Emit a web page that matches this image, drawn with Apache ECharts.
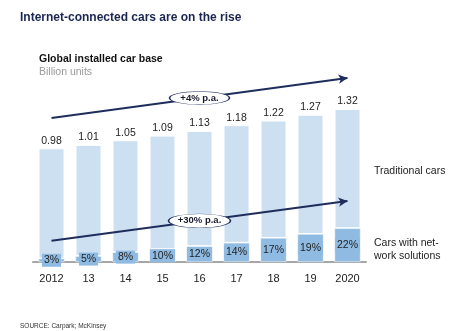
<!DOCTYPE html>
<html>
<head>
<meta charset="utf-8">
<script src="https://cdn.jsdelivr.net/npm/echarts@6/dist/echarts.min.js"></script>
<style>html,body{margin:0;padding:0;background:#fff}#c{width:463px;height:331px}</style>
</head>
<body>
<div id="c"></div>
<script>
var years = ['2012', '13', '14', '15', '16', '17', '18', '19', '2020'];
var totals = [0.98, 1.01, 1.05, 1.09, 1.13, 1.18, 1.22, 1.27, 1.32];
var sharePct = [3, 5, 8, 10, 12, 14, 17, 19, 22];
var growthLabels = ['+4% p.a.', '+30% p.a.'];
// trend arrows: [start value at 2012, end value at 2020]
var upperTrend = [1.241, 1.586];
var lowerTrend = [0.184, 0.526];

var connected = totals.map(function (t, i) { return +(t * sharePct[i] / 100).toFixed(4); });
var traditional = totals.map(function (t, i) { return +(t - connected[i]).toFixed(4); });

var navy = '#1f2d5c';
var chart = echarts.init(document.getElementById('c'));
var font = 'Liberation Sans, Arial, sans-serif';
chart.setOption({
  animation: false,
  textStyle: { fontFamily: font },
  title: [
    { text: 'Internet-connected cars are on the rise', left: 15, top: 7,
      textStyle: { fontSize: 12, fontWeight: 'bold', color: '#1b2650', fontFamily: font } },
    { text: 'Global installed car base', left: 34, top: 49,
      textStyle: { fontSize: 10.5, fontWeight: 'bold', color: '#111', fontFamily: font } },
    { text: 'Billion units', left: 34, top: 62,
      textStyle: { fontSize: 10.5, fontWeight: 'normal', color: '#999', fontFamily: font } },
    { text: 'Traditional cars', left: 369, top: 161,
      textStyle: { fontSize: 10.5, fontWeight: 'normal', color: '#222', fontFamily: font } },
    { text: 'Cars with net-\nwork solutions', left: 369, top: 232,
      textStyle: { fontSize: 10.5, fontWeight: 'normal', color: '#222', lineHeight: 12.6, fontFamily: font } },
    { text: 'SOURCE: Carpark; McKinsey', left: 15, top: 318,
      textStyle: { fontSize: 6.5, fontWeight: 'normal', color: '#333', fontFamily: font } }
  ],
  grid: { left: 33, width: 333, top: 59, bottom: 69 },
  xAxis: {
    type: 'category', data: years,
    axisLine: { lineStyle: { color: '#a6a6a6', width: 2 } },
    axisTick: { show: false },
    axisLabel: { fontSize: 11, color: '#222', margin: 11, fontFamily: font }
  },
  yAxis: { type: 'value', min: 0, max: 1.75, show: false, splitLine: { show: false } },
  series: [
    {
      name: 'Cars with network solutions', type: 'bar', stack: 'a', barWidth: 26,
      data: connected,
      itemStyle: { color: '#8fbbe2', borderColor: '#fff', borderWidth: 0.5 },
      label: {
        show: true, position: 'inside', fontSize: 10.5, color: '#222', fontFamily: font,
        backgroundColor: '#8fbbe2', padding: [1, 2],
        formatter: function (p) { return sharePct[p.dataIndex] + '%'; }
      },
      z: 3
    },
    {
      name: 'Traditional cars', type: 'bar', stack: 'a', barWidth: 26,
      data: traditional,
      itemStyle: { color: '#cde0f2', borderColor: '#fff', borderWidth: 1 },
      label: {
        show: true, position: 'top', distance: 2, fontSize: 10.5, color: '#222', fontFamily: font,
        formatter: function (p) { return totals[p.dataIndex].toFixed(2); }
      },
      markLine: {
        silent: true, symbol: ['none', 'arrow'], symbolSize: [7, 9],
        label: { show: false },
        lineStyle: { color: navy, width: 2, type: 'solid' },
        emphasis: { disabled: true },
        data: [
          [{ coord: [years[0], upperTrend[0]] }, { coord: [years[8], upperTrend[1]] }],
          [{ coord: [years[0], lowerTrend[0]] }, { coord: [years[8], lowerTrend[1]] }]
        ]
      },
      z: 2
    },
    {
      type: 'scatter', z: 10, silent: true,
      symbol: 'circle',
      itemStyle: { color: '#fff', borderColor: navy, borderWidth: 0.8, opacity: 1 },
      label: {
        show: true, position: 'inside', fontSize: 9.5, fontWeight: 'bold', color: '#1a1a2e', fontFamily: font,
        formatter: function (p) { return growthLabels[p.dataIndex]; }
      },
      data: [
        { value: [years[4], (upperTrend[0] + upperTrend[1]) / 2], symbolSize: [60, 13] },
        { value: [years[4], (lowerTrend[0] + lowerTrend[1]) / 2], symbolSize: [62, 14] }
      ]
    }
  ]
});
</script>
</body>
</html>
